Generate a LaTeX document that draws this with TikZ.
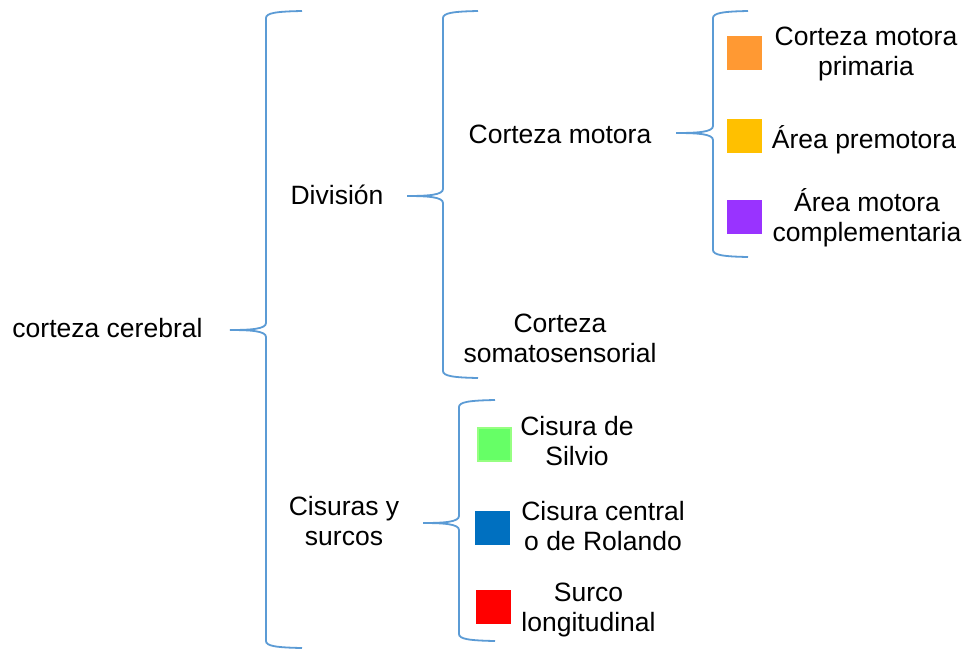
\documentclass[tikz,border=0pt]{standalone}
\usepackage{fontspec}
\setmainfont{Liberation Sans}
\definecolor{bracecol}{RGB}{91,155,213}
\definecolor{sqorange}{RGB}{255,153,51}
\definecolor{sqyellow}{RGB}{255,192,0}
\definecolor{sqpurple}{RGB}{153,51,255}
\definecolor{sqgreen}{RGB}{102,255,102}
\definecolor{sqgreenb}{RGB}{150,255,130}
\definecolor{sqblue}{RGB}{0,112,192}
\definecolor{sqred}{RGB}{255,0,0}
% #1 x, #2 top, #3 bottom, #4 tip y, #5 left x, #6 right x
\newcommand\mybrace[6]{%
  \draw[brc] (#6,#2) .. controls (#1+10,#2+0.5) and (#1,#2+2) .. (#1,#2+7)
    -- (#1,#4-7) .. controls (#1,#4-1) and (#1-15,#4) .. (#5,#4)
    .. controls (#1-15,#4) and (#1,#4+1) .. (#1,#4+7)
    -- (#1,#3-7) .. controls (#1,#3-2) and (#1+10,#3-0.5) .. (#6,#3);}
\begin{document}
\begin{tikzpicture}[x=1pt,y=-1pt,
  txt/.style={font=\fontsize{26.5}{30}\selectfont, align=center, inner sep=0pt, anchor=base},
  brc/.style={draw=bracecol, line width=1.8pt},
  sq/.style={rectangle, inner sep=0pt, minimum width=35pt, minimum height=34pt, anchor=north west}]
\useasboundingbox (0,0) rectangle (964,649);
\fill[white] (0,0) rectangle (964,649);

% text nodes (anchor = baseline of the last line)
\node[txt] (cc) at (107.5,337) {corteza cerebral};
\node[txt] (div) at (337,204) {División};
\node[txt] (cis) at (344,545) {Cisuras y\\surcos};
\node[txt] (cm) at (560,143) {Corteza motora};
\node[txt] (cs) at (560,362) {Corteza\\somatosensorial};
\node[txt] (cmp) at (866,75) {Corteza motora\\primaria};
\node[txt] (ap) at (864,148) {Área premotora};
\node[txt] (amc) at (867,241) {Área motora\\complementaria};
\node[txt] (cds) at (577,465) {Cisura de\\Silvio};
\node[txt] (ccr) at (603,550) {Cisura central\\o de Rolando};
\node[txt] (sl) at (588.5,631) {Surco\\longitudinal};

% squares
\node[sq, fill=sqorange] (sqo) at (727,36) {};
\node[sq, fill=sqyellow] (sqy) at (727,119) {};
\node[sq, fill=sqpurple] (sqp) at (727,200) {};
\node[sq, fill=sqgreen, draw=sqgreenb, line width=1.5pt, minimum width=33pt, minimum height=33pt] (sqg) at (477,427) {};
\node[sq, fill=sqblue] (sqb) at (475,511) {};
\node[sq, fill=sqred] (sqr) at (476,590) {};

% braces
\mybrace{266}{11}{648}{330}{230}{302}
\mybrace{443}{11}{378}{196}{407}{478}
\mybrace{713}{11}{257}{133}{676}{748}
\mybrace{459}{400}{641}{523}{423}{495}
\end{tikzpicture}
\end{document}
